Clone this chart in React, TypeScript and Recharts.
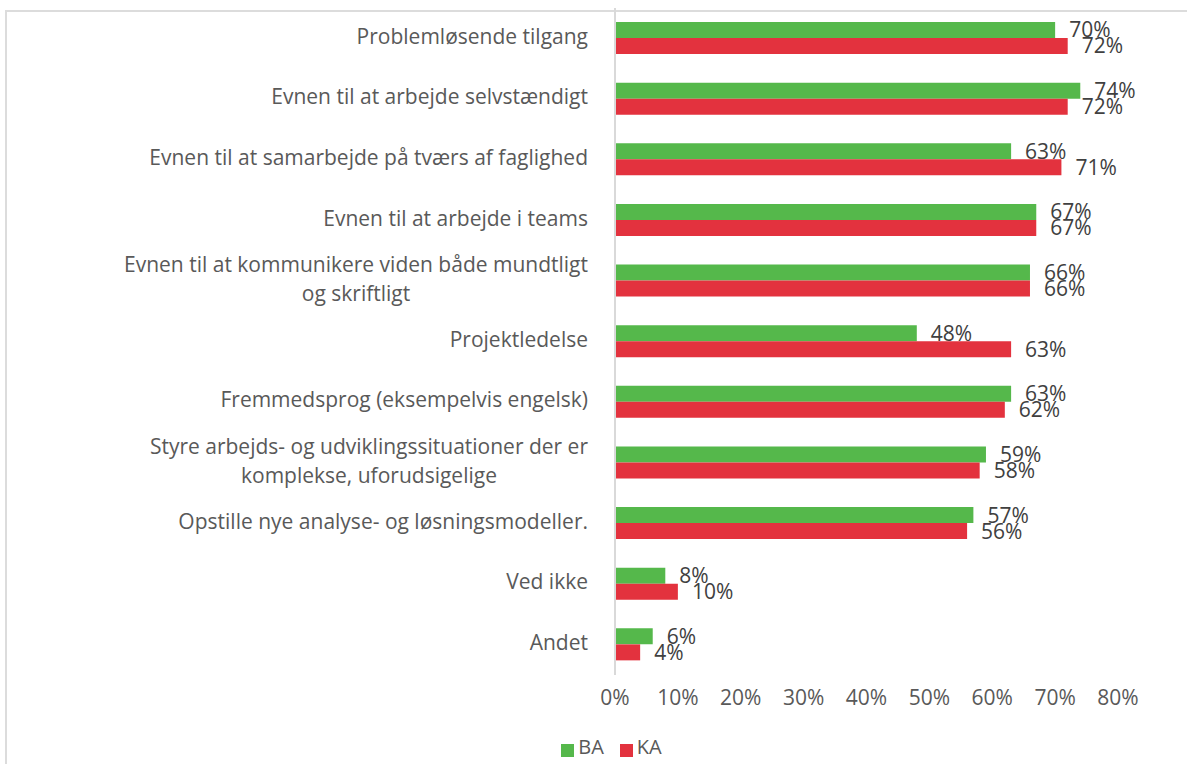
import { useLayoutEffect, useRef, useState } from 'react';
import { BarChart, Bar, XAxis, YAxis, Legend, LabelList } from 'recharts';

const categories = [
    'Problemløsende tilgang',
    'Evnen til at arbejde selvstændigt',
    'Evnen til at samarbejde på tværs af faglighed',
    'Evnen til at arbejde i teams',
    'Evnen til at kommunikere viden både mundtligt\nog skriftligt',
    'Projektledelse',
    'Fremmedsprog (eksempelvis engelsk)',
    'Styre arbejds- og udviklingssituationer der er\nkomplekse, uforudsigelige',
    'Opstille nye analyse- og løsningsmodeller.',
    'Ved ikke',
    'Andet',
];
const baValues = [70, 74, 63, 67, 66, 48, 63, 59, 57, 8, 6];
const kaValues = [72, 72, 71, 67, 66, 63, 62, 58, 56, 10, 4];
const xTicks = [0, 10, 20, 30, 40, 50, 60, 70, 80];

const rows = categories.map((name, i) => ({ name, BA: baValues[i], KA: kaValues[i] }));

const FONT = '"Open Sans", sans-serif';
const TEXT = '#595959';

function CategoryTick({ x, y, payload }: any) {
    const lines = String(payload.value).split('\n');
    const ref = useRef<SVGTextElement>(null);
    const [w, setW] = useState(0);
    useLayoutEffect(() => {
        if (ref.current) setW(ref.current.getComputedTextLength());
    }, []);
    const right = x - 19;
    const lh = 29;
    const top = y - ((lines.length - 1) * lh) / 2 - 2;
    return (
        <g>
            {lines.map((ln, i) => (
                <text
                    key={i}
                    ref={i === 0 ? ref : undefined}
                    x={i === 0 ? right : right - w / 2}
                    y={top + i * lh}
                    dy="0.35em"
                    textAnchor={i === 0 ? 'end' : 'middle'}
                    fill={TEXT}
                    fontSize={21}
                    fontFamily={FONT}
                >
                    {ln}
                </text>
            ))}
        </g>
    );
}

export default function App() {
    return (
        <div style={{ position: 'absolute', left: 0, top: 0, width: 1187, height: 764, background: '#fff' }}>
            <div
                style={{
                    position: 'absolute', left: 5, top: 10, right: 0, bottom: 0,
                    borderTop: '2px solid #dcdcdc', borderLeft: '2px solid #dcdcdc',
                }}
            />
            <BarChart
                width={1187}
                height={764}
                data={rows}
                layout="vertical"
                barSize={16}
                barGap={0}
                margin={{ top: 8, right: 69, bottom: 35, left: 0 }}
                style={{ position: 'absolute', left: 0, top: 0 }}
            >
                <XAxis
                    type="number"
                    domain={[0, 80]}
                    ticks={xTicks}
                    tickFormatter={(v) => `${v}%`}
                    axisLine={false}
                    tickLine={false}
                    tickMargin={9}
                    height={30}
                    tick={{ fill: TEXT, fontSize: 21, fontFamily: FONT }}
                />
                <YAxis
                    type="category"
                    dataKey="name"
                    width={615}
                    axisLine={{ stroke: '#d9d9d9', strokeWidth: 2 }}
                    tickLine={false}
                    interval={0}
                    tick={<CategoryTick />}
                />
                <Legend
                    verticalAlign="bottom"
                    iconType="square"
                    iconSize={13}
                    height={24}
                    wrapperStyle={{ left: 46, width: 1147, top: 733, bottom: 'auto' }}
                    formatter={(v) => (
                        <span style={{ color: TEXT, fontSize: 20, fontFamily: FONT, marginRight: 6 }}>{v}</span>
                    )}
                />
                <Bar dataKey="BA" fill="#55B84B" isAnimationActive={false}>
                    <LabelList dataKey="BA" position="right" offset={14} formatter={(v: any) => `${v}%`}
                        fill="#404040" fontSize={21} fontFamily={FONT} />
                </Bar>
                <Bar dataKey="KA" fill="#E3323E" isAnimationActive={false}>
                    <LabelList dataKey="KA" position="right" offset={14} formatter={(v: any) => `${v}%`}
                        fill="#404040" fontSize={21} fontFamily={FONT} />
                </Bar>
            </BarChart>
        </div>
    );
}
